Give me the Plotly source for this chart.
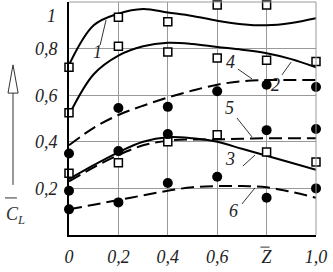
import plotly.graph_objects as go

# ---- data ----
x_curve = [0, 0.1, 0.2, 0.3, 0.4, 0.5, 0.6, 0.7, 0.8, 0.9, 1.0]
curve1 = [0.73, 0.90, 0.95, 0.97, 0.955, 0.94, 0.92, 0.905, 0.90, 0.91, 0.93]
curve2 = [0.515, 0.69, 0.77, 0.81, 0.825, 0.82, 0.807, 0.795, 0.78, 0.755, 0.72]
curve3 = [0.24, 0.30, 0.355, 0.40, 0.42, 0.415, 0.40, 0.37, 0.34, 0.31, 0.28]
curve4 = [0.385, 0.46, 0.515, 0.555, 0.59, 0.62, 0.645, 0.66, 0.665, 0.665, 0.665]
curve5 = [0.23, 0.29, 0.343, 0.385, 0.405, 0.41, 0.41, 0.413, 0.415, 0.415, 0.415]
curve6 = [0.11, 0.13, 0.15, 0.17, 0.19, 0.205, 0.21, 0.21, 0.205, 0.185, 0.16]

sq1_x = [0, 0.2, 0.4, 0.6, 0.8]
sq1_y = [0.72, 0.935, 0.915, 0.987, 0.987]
sq2_x = [0, 0.2, 0.4, 0.6, 0.8, 1.0]
sq2_y = [0.525, 0.81, 0.785, 0.76, 0.75, 0.745]
sq3_x = [0, 0.2, 0.4, 0.6, 0.8, 1.0]
sq3_y = [0.265, 0.31, 0.40, 0.43, 0.356, 0.313]

ci4_x = [0, 0.2, 0.4, 0.6, 0.8, 1.0]
ci4_y = [0.35, 0.545, 0.55, 0.617, 0.645, 0.635]
ci5_x = [0, 0.2, 0.4, 0.8, 1.0]
ci5_y = [0.19, 0.36, 0.433, 0.45, 0.455]
ci6_x = [0, 0.2, 0.4, 0.6, 0.8, 1.0]
ci6_y = [0.11, 0.14, 0.223, 0.25, 0.16, 0.20]

x_tickvals = [0, 0.2, 0.4, 0.6, 0.8, 1.0]
x_ticktext = ["0", "0,2", "0,4", "0,6", "Z", "1,0"]
y_tickvals = [0.2, 0.4, 0.6, 0.8]
y_ticktext = ["0,2", "0,4", "0,6", "0,8"]

curve_labels = ["1", "2", "3", "4", "5", "6"]
label_x = [0.117, 0.838, 0.652, 0.652, 0.648, 0.664]
label_y = [0.785, 0.644, 0.326, 0.742, 0.545, 0.103]
leader_x0 = [0.126, 0.862, 0.704, 0.684, 0.680, 0.700]
leader_y0 = [0.815, 0.687, 0.296, 0.712, 0.502, 0.133]
leader_x1 = [0.150, 0.899, 0.753, 0.741, 0.741, 0.753]
leader_y1 = [0.923, 0.742, 0.343, 0.670, 0.421, 0.202]

FONT = "Liberation Serif"

fig = go.Figure()

for cy in [curve1, curve2, curve3]:
    fig.add_trace(go.Scatter(x=x_curve, y=cy, mode="lines",
                             line=dict(color="black", width=2, shape="spline"),
                             cliponaxis=False, hoverinfo="skip"))
for cy in [curve4, curve5, curve6]:
    fig.add_trace(go.Scatter(x=x_curve, y=cy, mode="lines",
                             line=dict(color="black", width=2, shape="spline", dash="13px,6px"),
                             cliponaxis=False, hoverinfo="skip"))

for xs, ys in [(sq1_x, sq1_y), (sq2_x, sq2_y), (sq3_x, sq3_y)]:
    fig.add_trace(go.Scatter(x=xs, y=ys, mode="markers", cliponaxis=False,
                             marker=dict(symbol="square", size=8, color="white",
                                         line=dict(color="black", width=1.5))))
for xs, ys in [(ci4_x, ci4_y), (ci5_x, ci5_y), (ci6_x, ci6_y)]:
    fig.add_trace(go.Scatter(x=xs, y=ys, mode="markers", cliponaxis=False,
                             marker=dict(symbol="circle", size=10, color="black")))

shapes = []
for i in range(len(curve_labels)):
    shapes.append(dict(type="line", xref="x", yref="y",
                       x0=leader_x0[i], y0=leader_y0[i], x1=leader_x1[i], y1=leader_y1[i],
                       line=dict(color="black", width=0.8)))
    fig.add_annotation(x=label_x[i], y=label_y[i], text=curve_labels[i], showarrow=False,
                       font=dict(family=FONT, size=18, color="#222", style="italic"),
                       xref="x", yref="y")

# frame lines (top, right) in gray
shapes.append(dict(type="line", xref="paper", yref="paper", x0=0, x1=1, y0=1, y1=1,
                   line=dict(color="#999", width=1)))
shapes.append(dict(type="line", xref="paper", yref="paper", x0=1, x1=1, y0=0, y1=1,
                   line=dict(color="#999", width=1)))
# overline for Z tick label
shapes.append(dict(type="line", xref="paper", yref="paper", x0=0.775, x1=0.812, y0=-0.052, y1=-0.052,
                   line=dict(color="#333", width=1)))
# arrow on left
shapes.append(dict(type="line", xref="paper", yref="paper", x0=-0.2267, x1=-0.2267, y0=0.215, y1=0.609,
                   line=dict(color="#333", width=1)))
shapes.append(dict(type="path", xref="paper", yref="paper",
                   path="M -0.247 0.609 L -0.2267 0.730 L -0.206 0.609 Z",
                   line=dict(color="#333", width=1), fillcolor="white"))
# overline for C_L
shapes.append(dict(type="line", xref="paper", yref="paper", x0=-0.259, x1=-0.211, y0=0.159, y1=0.159,
                   line=dict(color="#333", width=1)))

fig.add_annotation(x=-0.263, y=0.085, xref="paper", yref="paper", showarrow=False,
                   xanchor="left", yanchor="middle",
                   text="C<sub>L</sub>", font=dict(family=FONT, size=18, color="#333", style="italic"))
fig.add_annotation(x=-0.045, y=0.99, xref="paper", yref="paper", showarrow=False,
                   xanchor="right", text="1",
                   font=dict(family=FONT, size=18, color="#222", style="italic"))

fig.update_layout(
    width=333, height=272,
    margin=dict(l=69, r=17, t=2, b=37, autoexpand=False),
    paper_bgcolor="white", plot_bgcolor="white",
    showlegend=False,
    shapes=shapes,
    font=dict(family=FONT, size=18, color="#222"),
)
fig.update_xaxes(range=[0, 1], tickvals=x_tickvals, ticktext=x_ticktext, automargin=False,
                 showgrid=True, gridcolor="#999", gridwidth=1, zeroline=False,
                 showline=True, linecolor="black", linewidth=2, ticks="",
                 ticklabelstandoff=4,
                 tickfont=dict(family=FONT, size=18, style="italic", color="#222"))
fig.update_yaxes(range=[0, 1], tickvals=y_tickvals, ticktext=y_ticktext, automargin=False,
                 showgrid=True, gridcolor="#999", gridwidth=1, zeroline=False,
                 showline=True, linecolor="black", linewidth=2, ticks="",
                 ticklabelstandoff=6,
                 tickfont=dict(family=FONT, size=18, style="italic", color="#222"))

fig.write_html("out.html", config={"displayModeBar": False},
               post_script="document.body.style.margin='0';")
